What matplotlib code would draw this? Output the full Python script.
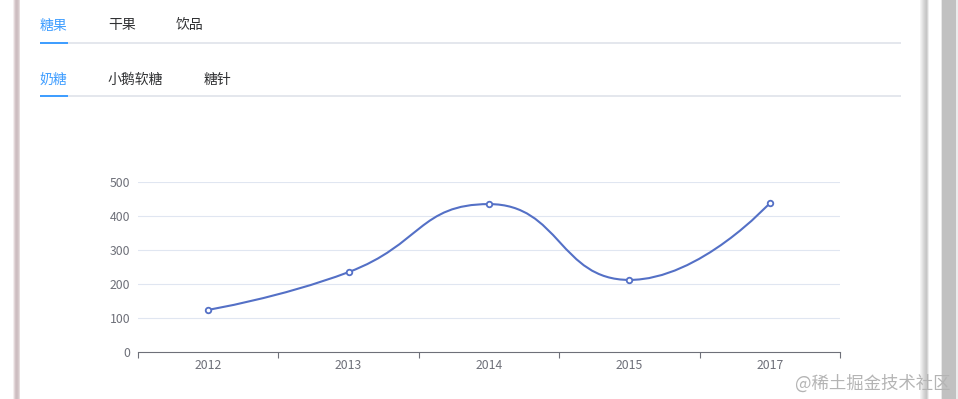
import matplotlib
matplotlib.use("Agg")
import matplotlib.pyplot as plt
import numpy as np
from matplotlib.path import Path
from matplotlib.patches import PathPatch, Rectangle

plt.rcParams['font.family'] = ['Noto Sans CJK SC', 'DejaVu Sans']

categories = ['2012', '2013', '2014', '2015', '2017']
values = [124, 235, 435, 212, 438]
y_ticks = [0, 100, 200, 300, 400, 500]
tabs_top = ['糖果', '干果', '饮品']
tabs_sub = ['奶糖', '小鹅软糖', '糖针']
watermark = '@稀土掘金技术社区'

W, H = 958, 399
fig = plt.figure(figsize=(W / 100, H / 100), dpi=100)
fig.patch.set_facecolor('white')

# background / decoration axes in pixel coords
bg = fig.add_axes([0, 0, 1, 1], zorder=0)
bg.set_xlim(0, W)
bg.set_ylim(H, 0)
bg.axis('off')

# left card edge shadow
for x0, c in [(13, '#f3eeee'), (14, '#e2d6d8'), (15, '#d3c4c7'), (16, '#cdbdc0'),
              (17, '#cfc0c3'), (18, '#d6c9cb'), (19, '#e6dcdd')]:
    bg.add_patch(Rectangle((x0, 0), 1, H, color=c, lw=0))
# right card edge shadow
for x0, c in [(920, '#f4f4f4'), (921, '#ececec'), (922, '#e3e3e3'), (923, '#dadada'),
              (924, '#d2d2d2'), (925, '#cbcbcb'), (926, '#c6c6c6'), (927, '#d6d6d6'),
              (928, '#eeeeee')]:
    bg.add_patch(Rectangle((x0, 0), 1, H, color=c, lw=0))
# scrollbar
bg.add_patch(Rectangle((941, 0), 1, H, color='#e8e8e8', lw=0))
bg.add_patch(Rectangle((942, 0), 14, H, color='#c1c1c1', lw=0))
bg.add_patch(Rectangle((956, 0), 2, H, color='#ececec', lw=0))

# tabs
blue = '#409eff'
top_x = [40, 108, 176]
for i, (t, x) in enumerate(zip(tabs_top, top_x)):
    bg.text(x, 25.5, t, fontsize=10, color=blue if i == 0 else '#303133',
            ha='left', va='center')
bg.add_patch(Rectangle((40, 42), 861, 2, color='#e4e7ed', lw=0))
bg.add_patch(Rectangle((40, 42), 28, 2, color=blue, lw=0))

sub_x = [40, 108, 204]
for i, (t, x) in enumerate(zip(tabs_sub, sub_x)):
    bg.text(x, 79.5, t, fontsize=10, color=blue if i == 0 else '#303133',
            ha='left', va='center')
bg.add_patch(Rectangle((40, 95), 861, 2, color='#e4e7ed', lw=0))
bg.add_patch(Rectangle((40, 95), 28, 2, color=blue, lw=0))

bg.text(951, 384, watermark, fontsize=12.5, color='#b4b4b4', ha='right', va='center')

# chart axes
L, R, T, B = 138, 840, 182, 352
ax = fig.add_axes([L / W, (H - B) / H, (R - L) / W, (B - T) / H], zorder=1)
ax.patch.set_alpha(0)
n = len(categories)
ax.set_xlim(-0.5, n - 0.5)
ax.set_ylim(0, 500)

for s in ['top', 'right', 'left']:
    ax.spines[s].set_visible(False)
ax.spines['bottom'].set_color('#6E7079')
ax.spines['bottom'].set_linewidth(0.8)

ax.set_yticks(y_ticks)
ax.set_yticklabels([str(v) for v in y_ticks])
ax.tick_params(axis='y', length=0, pad=5.5, labelsize=8.8, labelcolor='#6E7079')
for v in y_ticks[1:]:
    ax.axhline(v, color='#E0E6F1', lw=0.8, zorder=0)

ax.set_xticks(np.arange(-0.5, n, 1.0))
ax.set_xticklabels([])
ax.set_xticks(np.arange(n), minor=True)
ax.set_xticklabels(categories, minor=True)
ax.tick_params(axis='x', which='major', length=4, width=0.8, color='#6E7079', direction='out')
ax.tick_params(axis='x', which='minor', length=0, pad=5, labelsize=8.8, labelcolor='#6E7079')

# echarts-like smooth curve computed in pixel space
sx = (R - L) / n
sy = (B - T) / 500.0
xs = np.arange(n, dtype=float)
ys = np.array(values, dtype=float)
P = np.column_stack([xs * sx, ys * sy])
smooth = 0.5
cp_out = [None] * n
cp_in = [None] * n
for i in range(n):
    p = P[i]
    if i == 0:
        cp_out[i] = p.copy()
        continue
    if i == n - 1:
        cp_in[i] = p.copy()
        continue
    prev = P[i - 1]
    nxt = P[i + 1]
    v = nxt - prev
    lp = np.linalg.norm(p - prev)
    ln = np.linalg.norm(nxt - p)
    r = ln / (ln + lp)
    ncp = p + v * smooth * r
    ncp = np.minimum(ncp, np.maximum(nxt, p))
    ncp = np.maximum(ncp, np.minimum(nxt, p))
    v2 = ncp - p
    cp = p - v2 * lp / ln
    cp = np.minimum(cp, np.maximum(prev, p))
    cp = np.maximum(cp, np.minimum(prev, p))
    v3 = p - cp
    ncp = p + v3 * ln / lp
    cp_in[i] = cp
    cp_out[i] = ncp

verts = [P[0]]
codes = [Path.MOVETO]
for i in range(n - 1):
    verts += [cp_out[i], cp_in[i + 1], P[i + 1]]
    codes += [Path.CURVE4] * 3
verts = np.array(verts)
verts[:, 0] /= sx
verts[:, 1] /= sy
path = Path(verts, codes)
ax.add_patch(PathPatch(path, facecolor='none', edgecolor='#5470C6', lw=1.5, zorder=3))
ax.plot(xs, ys, linestyle='none', marker='o', markersize=4, markerfacecolor='white',
        markeredgecolor='#5470C6', markeredgewidth=1.3, zorder=4, clip_on=False)

fig.savefig('out.png', dpi=100, facecolor='white')
